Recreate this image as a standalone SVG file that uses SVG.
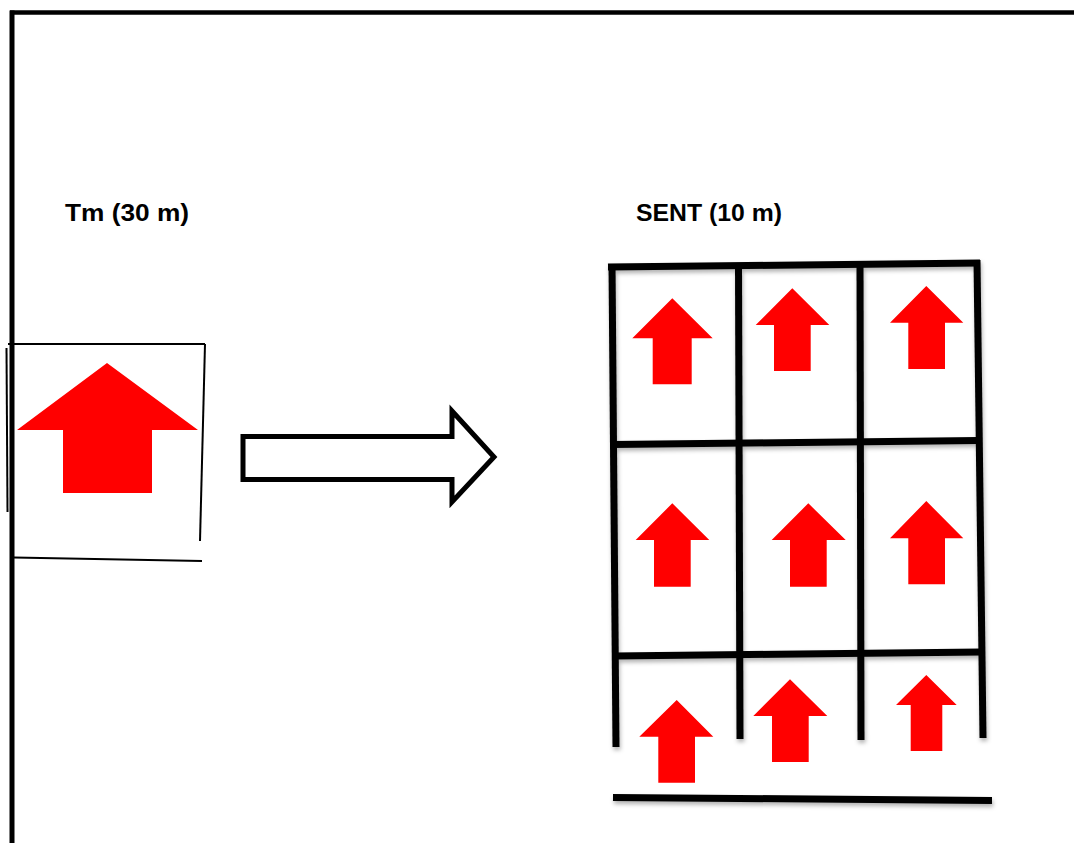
<svg xmlns="http://www.w3.org/2000/svg" width="1074" height="843" viewBox="0 0 1074 843">
  <style>
    .label { font-family: "Liberation Sans", Arial, sans-serif; font-weight: bold; font-size: 24px; fill: #000; }
    .frame { fill: none; stroke: #000; stroke-linecap: butt; }
    .thin { fill: none; stroke: #000; stroke-width: 2; }
    .grid { fill: none; stroke: #000; stroke-width: 7; stroke-linecap: butt; }
    .up { fill: #ff0000; stroke: none; }
  </style>
  <defs>
    <filter id="soft" x="-5%" y="-5%" width="110%" height="110%">
      <feDropShadow dx="1" dy="3" stdDeviation="2" flood-color="#000" flood-opacity="0.3"/>
    </filter>
  </defs>

  <rect width="1074" height="843" fill="#fff"/>

  <!-- page frame -->
  <g id="frame">
    <line class="frame" x1="10" y1="12.5" x2="1074" y2="12.5" stroke-width="4.5"/>
    <line class="frame" x1="12" y1="10.5" x2="12" y2="843" stroke-width="5"/>
  </g>

  <!-- labels -->
  <g id="label-tm">
    <text class="label" x="65" y="221" textLength="124" lengthAdjust="spacingAndGlyphs">Tm (30 m)</text>
  </g>
  <g id="label-sent">
    <text class="label" x="636" y="221" textLength="146" lengthAdjust="spacingAndGlyphs">SENT (10 m)</text>
  </g>

  <!-- coarse cell: single large arrow -->
  <g id="coarse-cell">
    <line class="thin" x1="8" y1="344" x2="205" y2="344"/>
    <line class="thin" x1="205" y1="344" x2="200" y2="541"/>
    <line class="thin" x1="14" y1="557.5" x2="202" y2="561"/>
    <line class="thin" x1="6.5" y1="348" x2="7.5" y2="512"/>
    <path class="up" d="M107 363 L198 430 L152 430 L152 493 L63 493 L63 430 L17 430 Z"/>
  </g>

  <!-- transition arrow -->
  <g id="connectors">
    <path d="M243 436.5 L452 436.5 L452 411 L494 457 L452 502 L452 479.5 L243 479.5 Z" fill="#fff" stroke="#000" stroke-width="5" stroke-linejoin="miter"/>
  </g>

  <!-- fine grid -->
  <g id="fine-grid" filter="url(#soft)">
    <line class="grid" x1="608" y1="267" x2="980" y2="263"/>
    <line class="grid" x1="612" y1="444.5" x2="978" y2="440.5"/>
    <line class="grid" x1="614" y1="656" x2="981" y2="652"/>
    <line class="grid" x1="612" y1="264" x2="616" y2="747"/>
    <line class="grid" x1="738.5" y1="266" x2="740" y2="739"/>
    <line class="grid" x1="860" y1="265" x2="861" y2="740"/>
    <line class="grid" x1="977" y1="260" x2="983" y2="738"/>
    <line class="grid" x1="613" y1="797.5" x2="992" y2="800.5"/>
  </g>

  <!-- fine cell arrows -->
  <g id="cell-arrows">
    <path class="up" d="M672.3 298.3 L712.7 338.3 L691.7 338.3 L691.7 384.3 L652.7 384.3 L652.7 338.3 L632.3 338.3 Z"/>
    <path class="up" d="M792.3 288.3 L829.3 325 L810.7 325 L810.7 371 L774 371 L774 325 L755.7 325 Z"/>
    <path class="up" d="M926.3 286 L963.3 322.7 L945 322.7 L945 369 L908.3 369 L908.3 322.7 L890 322.7 Z"/>
    <path class="up" d="M672.3 503.3 L709.3 540 L690.7 540 L690.7 586.7 L654 586.7 L654 540 L635.7 540 Z"/>
    <path class="up" d="M808.3 503.3 L845.7 540 L826.7 540 L826.7 586.7 L790 586.7 L790 540 L771.7 540 Z"/>
    <path class="up" d="M926.3 501 L963.3 538.3 L945 538.3 L945 584.3 L908.3 584.3 L908.3 538.3 L890 538.3 Z"/>
    <path class="up" d="M676.7 700 L713.3 736.7 L695 736.7 L695 782.7 L658.3 782.7 L658.3 736.7 L639.3 736.7 Z"/>
    <path class="up" d="M790 679.3 L827.3 716 L808.7 716 L808.7 762 L772 762 L772 716 L753.3 716 Z"/>
    <path class="up" d="M926.3 675 L956.7 705 L942.3 705 L942.3 751 L910.7 751 L910.7 705 L896 705 Z"/>
  </g>
</svg>
